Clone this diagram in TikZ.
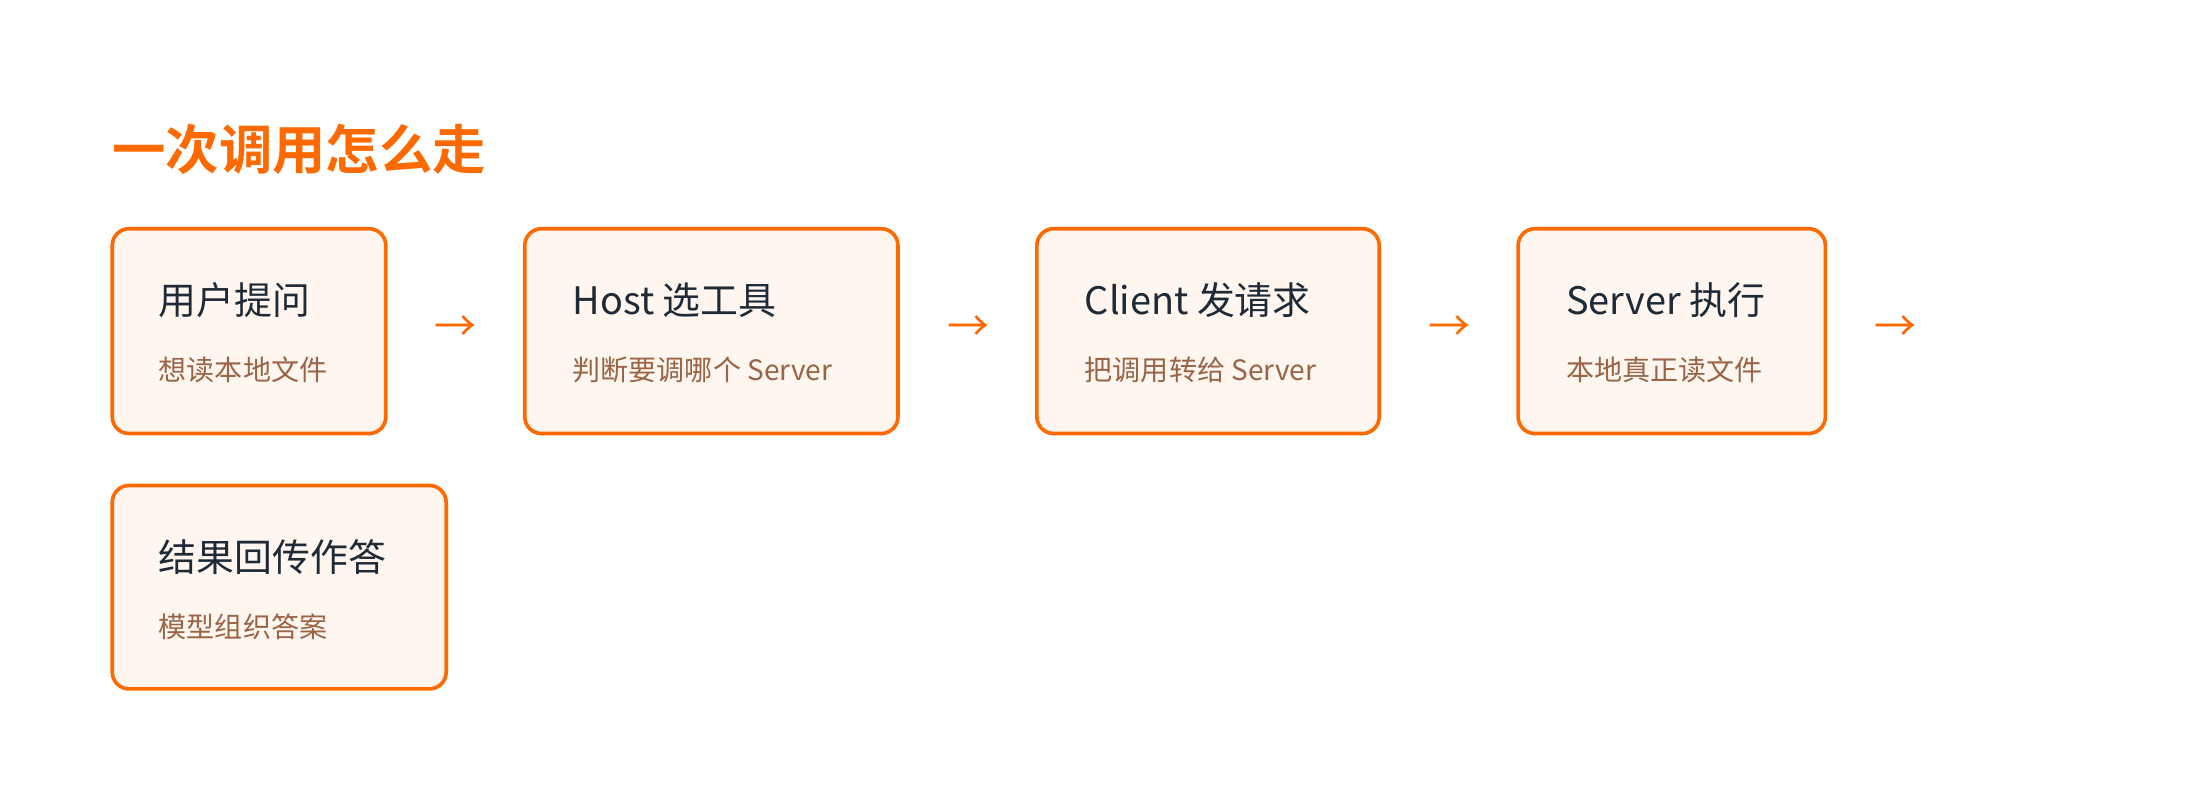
\documentclass[tikz,border=0pt]{standalone}
\usepackage{fontspec}
\setmainfont{Noto Sans CJK SC}
\newfontfamily\cjkb{Noto Sans CJK SC Bold}
\definecolor{org}{HTML}{FF6A00}
\definecolor{boxfill}{HTML}{FFF6EF}
\definecolor{maintxt}{HTML}{1F2A37}
\definecolor{subtxt}{HTML}{9A6446}
\begin{document}
\begin{tikzpicture}[x=1pt,y=-1pt,
  box/.style={draw=org,line width=2.6pt,fill=boxfill,rounded corners=12pt},
  mt/.style={anchor=base west,text=maintxt,font=\fontsize{27}{30}\selectfont,inner sep=0},
  st/.style={anchor=base west,text=subtxt,font=\fontsize{20}{24}\selectfont,inner sep=0},
  ar/.style={anchor=center,text=org,font=\fontsize{30}{30}\selectfont}]
\useasboundingbox (0,0) rectangle (1568,573);
\node[anchor=base west,inner sep=0,text=org,font=\cjkb\fontsize{38}{42}\selectfont] (title) at (80,121) {一次调用怎么走};
\draw[box] (80,163) rectangle (275,309);
\draw[box] (374,163) rectangle (640,309);
\draw[box] (739,163) rectangle (983,309);
\draw[box] (1082,163) rectangle (1301,309);
\draw[box] (80,346) rectangle (318,491);
\node[mt] (m1) at (113,224) {用户提问};
\node[st] (s1) at (113,271) {想读本地文件};
\node[mt] (m2) at (408,224) {Host 选工具};
\node[st] (s2) at (408,271) {判断要调哪个 Server};
\node[mt] (m3) at (773,224) {Client 发请求};
\node[st] (s3) at (773,271) {把调用转给 Server};
\node[mt] (m4) at (1116,224) {Server 执行};
\node[st] (s4) at (1116,271) {本地真正读文件};
\node[mt] (m5) at (113,407) {结果回传作答};
\node[st] (s5) at (113,454) {模型组织答案};
\node[ar] (a1) at (325,234) {→};
\node[ar] (a2) at (690,234) {→};
\node[ar] (a3) at (1033,234) {→};
\node[ar] (a4) at (1351,234) {→};
\end{tikzpicture}
\end{document}
